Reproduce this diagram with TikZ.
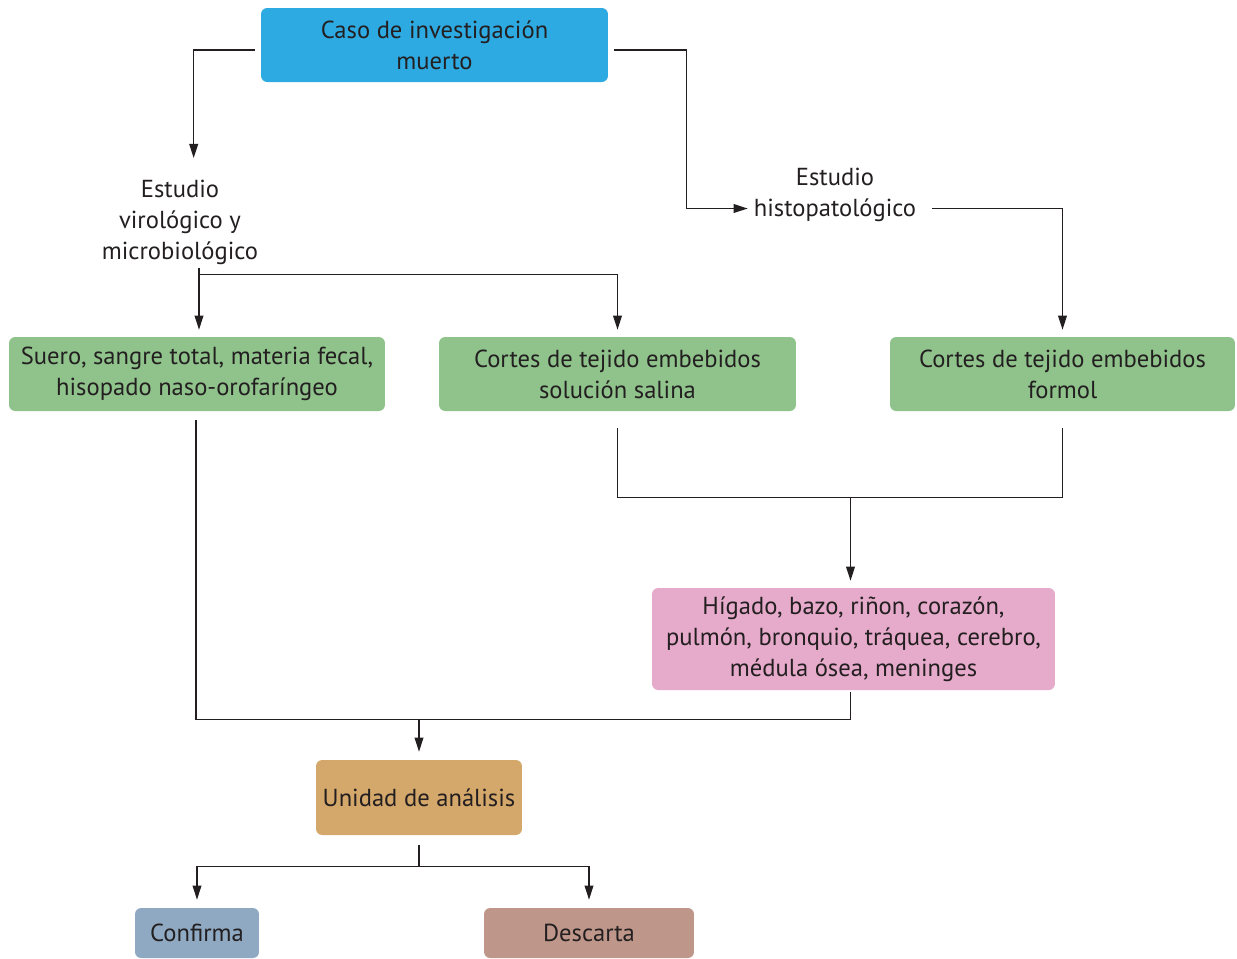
\documentclass[tikz,border=0pt]{standalone}
\usepackage{fontspec}
\setsansfont{PT Sans}
\usepackage{tikz}
\usetikzlibrary{shapes}
\usetikzlibrary{arrows.meta}
\usetikzlibrary{calc}
\usetikzlibrary{positioning}
\usepackage{xcolor}
\definecolor{myblack}{HTML}{231F20}
\definecolor{cblue}{HTML}{2EAAE2}
\definecolor{cgreen}{HTML}{8FC38B}
\definecolor{cpink}{HTML}{E6AACA}
\definecolor{ctan}{HTML}{D4A76A}
\definecolor{cslate}{HTML}{8EA9C1}
\definecolor{cbrown}{HTML}{BF978A}
\tikzset{every text node part/.style={align=center, font={\sffamily\fontsize{14}{17.6}\selectfont}, text=myblack}}
\tikzstyle{rbox} = [rounded corners=3.5pt, inner sep=0pt, minimum height=1.48cm]
\tikzstyle{arr} = [draw=myblack, line width=0.8pt, -{Triangle[length=8pt,width=5pt]}]
\tikzstyle{ln} = [draw=myblack, line width=0.8pt]

\begin{document}
\begin{tikzpicture}[x=0.02cm, y=-0.02cm]
  \useasboundingbox (0,0) rectangle (1237,958);
  \clip (0,0) rectangle (1237,958);
  \node[rbox, fill=cblue, minimum width=6.94cm] (caso) at (434.5,45) {Caso de investigación\\muerto};
  \node (viro) at (180,222) {Estudio\\virológico y\\microbiológico};
  \node (histo) at (835,194.5) {Estudio\\histopatológico};
  \node[rbox, fill=cgreen, minimum width=7.52cm] (suero) at (197,374) {Suero, sangre total, materia fecal,\\hisopado naso-orofaríngeo};
  \node[rbox, fill=cgreen, minimum width=7.14cm] (salina) at (617.5,374) {Cortes de tejido embebidos\\solución salina};
  \node[rbox, fill=cgreen, minimum width=6.9cm] (formol) at (1062.5,374) {Cortes de tejido embebidos\\formol};
  \node[rbox, fill=cpink, minimum width=8.06cm, minimum height=2.04cm] (higado) at (853.5,639) {Hígado, bazo, riñon, corazón,\\pulmón, bronquio, tráquea, cerebro,\\médula ósea, meninges};
  \node[rbox, fill=ctan, minimum width=4.12cm, minimum height=1.5cm] (unidad) at (419,797.5) {Unidad de análisis};
  \node[rbox, fill=cslate, minimum width=2.48cm, minimum height=1.0cm] (confirma) at (197,933) {Confirma};
  \node[rbox, fill=cbrown, minimum width=4.2cm, minimum height=1.0cm] (descarta) at (589,933) {Descarta};

  \coordinate (vsplit) at ($(suero.north)+(2,-62)$);
  \coordinate (hjoin) at ($(higado.north)+(-3,-90)$);
  \coordinate (ujoin) at ($(unidad.north)+(0,-40)$);
  \coordinate (ojoin) at ($(unidad.south)+(0,31)$);

  \draw[arr] ([shift={(-6,5)}]caso.west) -| ($(caso.west)+(-67,113)$);
  \draw[arr] ([shift={(6,5)}]caso.east) -- ($(caso.east)+(78,5)$) |- ($(histo.west)+(0,14)$);
  \draw[arr] ($(histo.east)+(10,14)$) -| ($(formol.north)+(0,-7)$);
  \draw[arr] ($(suero.north)+(2,-69)$) -- ($(suero.north)+(2,-7)$);
  \draw[arr] (vsplit) -| ($(salina.north)+(0,-7)$);
  \draw[ln] ($(salina.south)+(0,17)$) |- (hjoin) -| ($(formol.south)+(0,17)$);
  \draw[arr] (hjoin) -- ($(higado.north)+(-3,-7)$);
  \draw[ln] ($(suero.south)+(-1,9)$) |- (ujoin) -| ($(higado.south)+(-3,2)$);
  \draw[arr] (ujoin) -- ($(unidad.north)+(0,-8)$);
  \draw[ln] ($(unidad.south)+(0,10)$) -- (ojoin);
  \draw[arr] (ojoin) -| ($(confirma.north)+(0,-8)$);
  \draw[arr] (ojoin) -| ($(descarta.north)+(0,-8)$);
\end{tikzpicture}
\end{document}
